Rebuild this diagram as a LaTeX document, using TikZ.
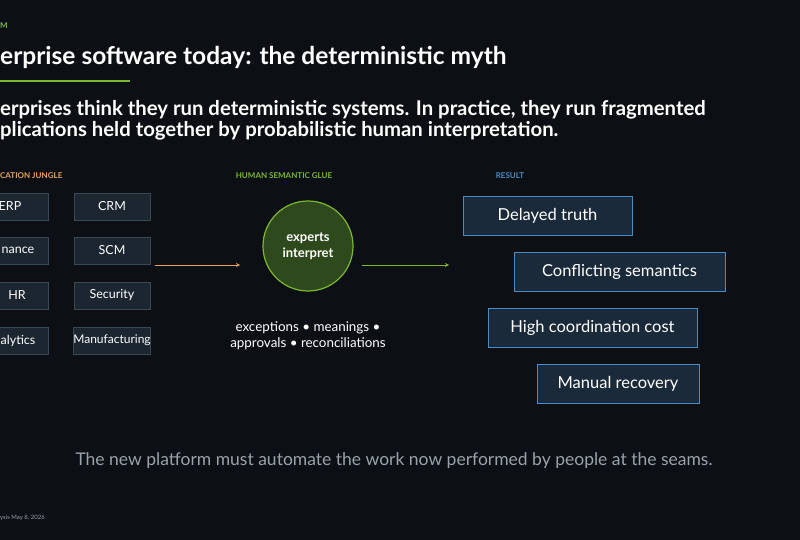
\documentclass[tikz,border=0pt]{standalone}
\usepackage{fontspec}
\setmainfont{Lato}
\usetikzlibrary{positioning}
\definecolor{bg}{HTML}{0C0F14}
\definecolor{boxfill}{HTML}{1C2631}
\definecolor{boxline}{HTML}{3A4856}
\definecolor{glue}{HTML}{7CB82F}
\definecolor{gluefill}{HTML}{2E4A1C}
\definecolor{jungle}{HTML}{E8A25E}
\definecolor{res}{HTML}{4A8CC4}
\definecolor{resfill}{HTML}{1B2A3A}
\definecolor{muted}{HTML}{9AA3AC}
\tikzset{
	app/.style={draw=boxline, fill=boxfill, text=white, minimum width=76pt, minimum height=27pt, font=\fontsize{12.5}{14}\selectfont, inner sep=0pt},
	result/.style={draw=res, fill=resfill, text=white, minimum height=39pt, font=\fontsize{16.5}{19}\selectfont, inner sep=0pt},
	tag/.style={font=\fontsize{8}{9}\selectfont\bfseries, inner sep=0pt}
}
\begin{document}
\begin{tikzpicture}[x=1pt,y=-1pt]
	\fill[bg] (0,0) rectangle (800,540);
	\useasboundingbox (0,0) rectangle (800,540);
	\node[tag, text=glue, anchor=west] (top) at (0,26) {M};
	\node[anchor=west, text=white, inner sep=0pt, font=\fontsize{24.5}{28}\selectfont\bfseries] (title) at (0,57) {erprise software today: the deterministic myth};
	\draw[glue, line width=2pt] (0,81) -- (130,81);
	\node[anchor=north west, text=white, inner sep=0pt, align=left, font=\fontsize{20.3}{21.5}\selectfont\bfseries] (sub) at (0,100) {erprises think they run deterministic systems. In practice, they run fragmented\\plications held together by probabilistic human interpretation.};
	% tags
	\node[tag, text=jungle, anchor=west] (tjungle) at (0,176) {CATION JUNGLE};
	\node[tag, text=glue] (tglue) at (284,176) {HUMAN SEMANTIC GLUE};
	\node[tag, text=res] (tres) at (510,176) {RESULT};
	% application boxes
	\node[app] (erp) at (10,206.5) {ERP};
	\node[app] (fin) at (10,250.5) {\hspace*{16pt}nance};
	\node[app] (hr) at (10,295.5) {\hspace*{14pt}HR};
	\node[app] (ana) at (10,340.5) {\hspace*{16pt}alytics};
	\node[app] (crm) at (112,206.5) {CRM};
	\node[app] (scm) at (112,250.5) {SCM};
	\node[app] (sec) at (112,295.5) {Security};
	\node[app, font=\fontsize{12}{14}\selectfont] (man) at (112,340.5) {Manufacturing};
	% glue
	\node[circle, draw=glue, fill=gluefill, line width=1.2pt, minimum size=90pt, text=white, align=center, font=\fontsize{13}{15.5}\selectfont\bfseries] (exp) at (308,246) {experts\\interpret};
	\node[text=white, align=center, font=\fontsize{13.4}{16}\selectfont, below=27pt of exp] (notes) {exceptions • meanings •\\approvals • reconciliations};
	\coordinate (ain) at (155,265);
	\coordinate (aout) at (240,265);
	\coordinate (gin) at (362,265);
	\coordinate (gout) at (449,265);
	\draw[jungle, thick, -stealth] (ain) -- (aout);
	\draw[glue, thick, -stealth] (gin) -- (gout);
	% results
	\node[result, minimum width=169pt] (r1) at (547.5,215.5) {Delayed truth};
	\node[result, minimum width=211pt] (r2) at (619.5,272) {Conflicting semantics};
	\node[result, minimum width=209pt] (r3) at (592.5,328) {High coordination cost};
	\node[result, minimum width=162pt] (r4) at (618,384) {Manual recovery};
	\node[text=muted, font=\fontsize{17.5}{20}\selectfont] (bottom) at (394,461) {The new platform must automate the work now performed by people at the seams.};
	\node[text=muted, anchor=west, inner sep=0pt, font=\fontsize{6}{7}\selectfont] (foot) at (0,518) {ysis May 8, 2026};
\end{tikzpicture}
\end{document}
